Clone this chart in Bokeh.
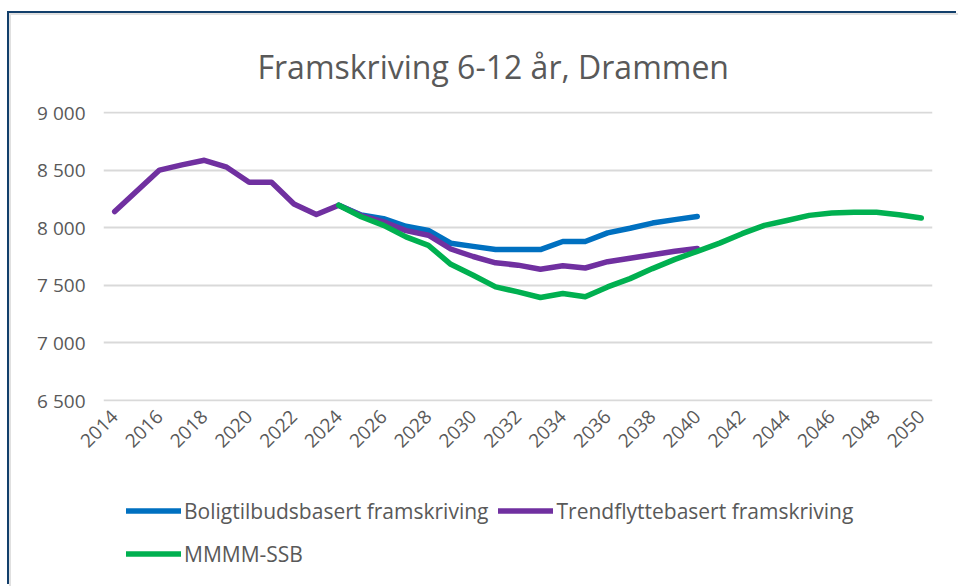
from bokeh.plotting import figure
from bokeh.models import Range1d, FixedTicker, Legend, LegendItem
from bokeh.layouts import column
from bokeh.embed import file_html
from bokeh.resources import INLINE
import math

title_text = "Framskriving 6-12 år, Drammen"

years_purple = list(range(2014, 2041))
purple_vals = [8140, 8320, 8500, 8545, 8585, 8525, 8395, 8395, 8205, 8115,
               8195, 8105, 8050, 7975, 7935, 7815, 7750, 7695, 7675, 7640,
               7670, 7650, 7705, 7735, 7765, 7795, 7820]

years_blue = list(range(2024, 2041))
blue_vals = [8195, 8110, 8078, 8012, 7977, 7865, 7838, 7810, 7810, 7810,
             7880, 7880, 7955, 7995, 8040, 8070, 8098]

years_green = list(range(2024, 2051))
green_vals = [8195, 8095, 8020, 7920, 7847, 7682, 7587, 7486, 7443, 7394,
              7429, 7400, 7486, 7558, 7645, 7725, 7795, 7866, 7948, 8020,
              8063, 8107, 8127, 8135, 8135, 8113, 8084]

series_names = ["Boligtilbudsbasert framskriving", "Trendflyttebasert framskriving", "MMMM-SSB"]
series_colors = ["#0070C0", "#7030A0", "#00B050"]
x_ticks = list(range(2014, 2051, 2))
y_ticks = [6500, 7000, 7500, 8000, 8500, 9000]
y_tick_labels = ["6 500", "7 000", "7 500", "8 000", "8 500", "9 000"]

FONT = "Open Sans"
GREY = "#595959"
NAVY = "#123f6b"

W = 949
H1 = 446
H2 = 127
pad = 2500 / 288.0
p = figure(width=W, height=H1, output_backend="svg", toolbar_location=None,
           x_range=Range1d(2013.5, 2050.5), y_range=Range1d(6500 - pad, 9000 + pad),
           min_border_left=92, min_border_right=28, min_border_top=96,
           min_border_bottom=60)
p.outline_line_color = None
p.background_fill_color = "white"
p.border_fill_color = "white"

p.title.text = title_text
p.title.align = "left"
p.title.vertical_align = "top"
p.title.offset = 154
p.title.standoff = 44
p.title.text_font = FONT
p.title.text_font_size = "32px"
p.title.text_font_style = "normal"
p.title.text_color = GREY

p.xgrid.grid_line_color = None
p.ygrid.grid_line_color = "#D9D9D9"
p.ygrid.grid_line_width = 2

p.yaxis.ticker = FixedTicker(ticks=y_ticks)
p.yaxis.major_label_overrides = dict(zip(y_ticks, y_tick_labels))
p.xaxis.ticker = FixedTicker(ticks=x_ticks)
for ax in (p.xaxis, p.yaxis):
    ax.axis_line_color = None
    ax.major_tick_line_color = None
    ax.minor_tick_line_color = None
    ax.major_tick_in = 0
    ax.major_tick_out = 0
    ax.minor_tick_in = 0
    ax.minor_tick_out = 0
    ax.major_label_text_font = FONT
    ax.major_label_text_font_size = "19px"
    ax.major_label_text_color = GREY
p.yaxis.major_label_standoff = 18
p.xaxis.major_label_orientation = math.pi / 4
p.xaxis.major_label_standoff = 12

kw = dict(line_width=5.5, line_cap="round", line_join="round")
p.line(years_blue, blue_vals, color=series_colors[0], **kw)
p.line(years_purple, purple_vals, color=series_colors[1], **kw)
p.line(years_green, green_vals, color=series_colors[2], **kw)

# legend panel (its frame is aligned with the chart frame by the column layout)
p2 = figure(width=W, height=H2, output_backend="svg", toolbar_location=None,
            x_range=Range1d(0, 1), y_range=Range1d(0, 1),
            x_axis_type=None, y_axis_type=None,
            min_border_left=0, min_border_right=0, min_border_top=0, min_border_bottom=0)
p2.outline_line_color = None
p2.grid.visible = False
p2.background_fill_color = "white"
p2.border_fill_color = "white"
swatches = [p2.line(xs, ys, color=c, **kw) for xs, ys, c in
            zip([years_blue, years_purple, years_green], [blue_vals, purple_vals, green_vals], series_colors)]
legend = Legend(items=[LegendItem(label=n, renderers=[r]) for n, r in zip(series_names, swatches)],
                orientation="horizontal", ncols=2, location=(23, 18),
                margin=0, padding=0, spacing=10, label_standoff=3,
                glyph_width=55, glyph_height=33, label_height=33,
                label_text_font=FONT, label_text_font_size="21px",
                label_text_color=GREY, border_line_color=None,
                background_fill_alpha=0)
p2.add_layout(legend, "center")

layout = column(p, p2, margin=(15, 0, 0, 11), spacing=0,
                styles={"box-shadow": "-2px -2px 0 0 #E0E0E0, -4px -4px 0 0 " + NAVY})

open("out.html", "w").write(file_html(layout, INLINE))
